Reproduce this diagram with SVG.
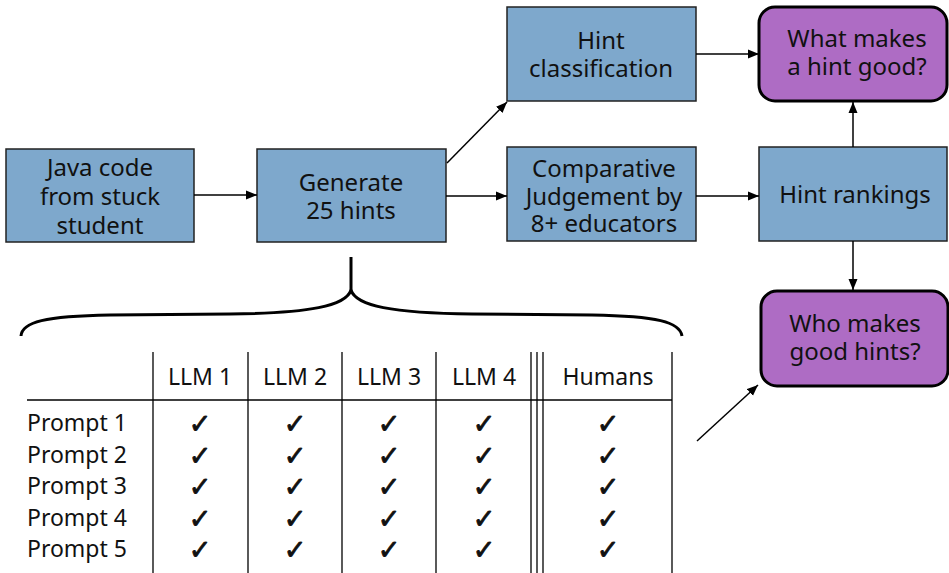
<svg xmlns="http://www.w3.org/2000/svg" width="949" height="573" viewBox="0 0 949 573">
<defs>
<marker id="ah" markerWidth="12" markerHeight="10" refX="11" refY="5" orient="auto" markerUnits="userSpaceOnUse">
<path d="M0,0.5 L11,5 L0,9.5 Z" fill="#000"/>
</marker>
<style>
.box{fill:#7ea8cc;stroke:#222;stroke-width:1.5}
.q{fill:#ae6cc4;stroke:#000;stroke-width:3}
.t{font-family:"Noto Sans","Open Sans",sans-serif;font-size:24px;fill:#111;text-anchor:middle}
.tt{font-family:"Noto Sans","Open Sans",sans-serif;font-size:23px;fill:#111}
.ck{font-family:"DejaVu Sans",sans-serif;font-size:27px;fill:#111;stroke:#111;stroke-width:0.9;text-anchor:middle}
.c{stroke:#000;stroke-width:1.5;fill:none;marker-end:url(#ah)}
.g{stroke:#000;stroke-width:1.3;fill:none}
</style>
</defs>
<rect width="949" height="573" fill="#fff"/>
<g id="java">
<rect class="box" x="6" y="149" width="188" height="93"/>
<text class="t"><tspan x="100" y="176">Java code</tspan><tspan x="100" y="205">from stuck</tspan><tspan x="100" y="234">student</tspan></text>
</g>
<g id="generate">
<rect class="box" x="257" y="149" width="189" height="93"/>
<text class="t"><tspan x="351" y="191">Generate</tspan><tspan x="351" y="219">25 hints</tspan></text>
</g>
<g id="classification">
<rect class="box" x="507" y="7" width="189" height="94"/>
<text class="t"><tspan x="601" y="49">Hint</tspan><tspan x="601" y="77">classification</tspan></text>
</g>
<g id="comparative">
<rect class="box" x="507" y="147" width="189" height="94"/>
<text class="t"><tspan x="604" y="177">Comparative</tspan><tspan x="604" y="205">Judgement by</tspan><tspan x="604" y="232">8+ educators</tspan></text>
</g>
<g id="rankings">
<rect class="box" x="759" y="147" width="188" height="94"/>
<text class="t" x="855" y="203">Hint rankings</text>
</g>
<g id="whatmakes">
<rect class="q" x="759" y="7" width="188" height="94" rx="16"/>
<text class="t"><tspan x="857" y="47">What makes</tspan><tspan x="857" y="75">a hint good?</tspan></text>
</g>
<g id="whomakes">
<rect class="q" x="761" y="291" width="187" height="95" rx="16"/>
<text class="t"><tspan x="855" y="332">Who makes</tspan><tspan x="855" y="360">good hints?</tspan></text>
</g>
<g id="connectors">
<line class="c" x1="194" y1="195" x2="257" y2="195"/>
<line class="c" x1="447" y1="163" x2="507" y2="102"/>
<line class="c" x1="446" y1="196" x2="507" y2="196"/>
<line class="c" x1="696" y1="54" x2="759" y2="54"/>
<line class="c" x1="696" y1="196" x2="759" y2="196"/>
<line class="c" x1="853" y1="147" x2="853" y2="102"/>
<line class="c" x1="853" y1="241" x2="853" y2="290"/>
<line class="c" x1="697" y1="441" x2="758" y2="385"/>
</g>
<g id="brace" fill="none" stroke="#000" stroke-width="3">
<path d="M351,257 L351,290"/>
<path d="M351,290 C346,306 310,313 230,314 L110,315 C45,316 22,322 21,336"/>
<path d="M351,290 C356,306 392,313 472,314 L592,315 C657,316 680,322 682,336"/>
</g>
<g id="table">
<line class="g" x1="27" y1="400" x2="672" y2="400"/>
<line class="g" x1="153" y1="352" x2="153" y2="573"/>
<line class="g" x1="248" y1="352" x2="248" y2="573"/>
<line class="g" x1="342" y1="352" x2="342" y2="573"/>
<line class="g" x1="436" y1="352" x2="436" y2="573"/>
<line class="g" x1="531" y1="352" x2="531" y2="573"/>
<line class="g" x1="537" y1="352" x2="537" y2="573"/>
<line class="g" x1="543" y1="352" x2="543" y2="573"/>
<line class="g" x1="672" y1="352" x2="672" y2="573"/>
<text class="tt" x="200" y="385" text-anchor="middle">LLM 1</text>
<text class="tt" x="295" y="385" text-anchor="middle">LLM 2</text>
<text class="tt" x="389" y="385" text-anchor="middle">LLM 3</text>
<text class="tt" x="484" y="385" text-anchor="middle">LLM 4</text>
<text class="tt" x="608" y="385" text-anchor="middle">Humans</text>
<text class="tt"><tspan x="27" y="431">Prompt 1</tspan><tspan x="27" y="463">Prompt 2</tspan><tspan x="27" y="494">Prompt 3</tspan><tspan x="27" y="526">Prompt 4</tspan><tspan x="27" y="557">Prompt 5</tspan></text>
<g class="ck">
<text><tspan x="200" y="433">✓</tspan><tspan x="200" y="465">✓</tspan><tspan x="200" y="496">✓</tspan><tspan x="200" y="528">✓</tspan><tspan x="200" y="559">✓</tspan></text>
<text><tspan x="295" y="433">✓</tspan><tspan x="295" y="465">✓</tspan><tspan x="295" y="496">✓</tspan><tspan x="295" y="528">✓</tspan><tspan x="295" y="559">✓</tspan></text>
<text><tspan x="389" y="433">✓</tspan><tspan x="389" y="465">✓</tspan><tspan x="389" y="496">✓</tspan><tspan x="389" y="528">✓</tspan><tspan x="389" y="559">✓</tspan></text>
<text><tspan x="484" y="433">✓</tspan><tspan x="484" y="465">✓</tspan><tspan x="484" y="496">✓</tspan><tspan x="484" y="528">✓</tspan><tspan x="484" y="559">✓</tspan></text>
<text><tspan x="608" y="433">✓</tspan><tspan x="608" y="465">✓</tspan><tspan x="608" y="496">✓</tspan><tspan x="608" y="528">✓</tspan><tspan x="608" y="559">✓</tspan></text>
</g>
</g>
</svg>
